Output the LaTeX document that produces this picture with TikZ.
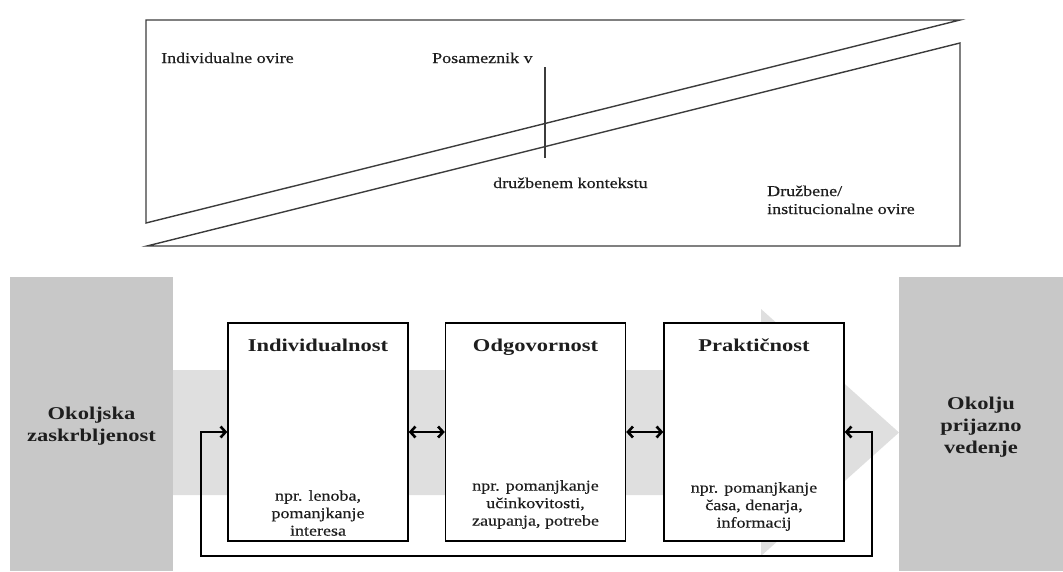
\documentclass[tikz,border=0pt]{standalone}
\usepackage{fontspec}
\usetikzlibrary{arrows.meta}
\newfontfamily\camreg[FakeStretch=1.2,FakeBold=0.35]{Liberation Serif}
\newfontfamily\cambf[FakeStretch=1.25]{Liberation Serif}
\definecolor{boxgray}{RGB}{200,200,200}
\definecolor{flowgray}{RGB}{223,223,223}
\definecolor{linegray}{RGB}{60,60,60}
\definecolor{inkc}{RGB}{30,30,30}
\tikzset{
  barrier/.style={draw=linegray,line width=1.4pt,line join=miter},
  lbl/.style={inner sep=0pt,text=inkc,font=\camreg\fontsize{15}{18}\selectfont},
  sidebox/.style={fill=boxgray,draw=none},
  sidetext/.style={inner sep=0pt,align=center,text=inkc,font=\cambf\bfseries\fontsize{18}{22}\selectfont},
  factor/.style={draw=black,line width=1.4pt,fill=white,minimum width=180pt,minimum height=218pt,inner sep=0pt},
  ftitle/.style={inner sep=0pt,anchor=base,text=inkc,font=\cambf\bfseries\fontsize{18}{22}\selectfont},
  fnote/.style={inner sep=0pt,align=center,text=inkc,font=\camreg\fontsize{15}{17.5}\selectfont},
  barb/.tip={Straight Barb[length=5pt,width=11pt,line width=2.6pt]},
  link/.style={line width=1.8pt,barb-barb},
}
\begin{document}
\begin{tikzpicture}[x=1pt,y=-1pt]
\useasboundingbox (0,0) rectangle (1063,571);

% barriers: individual (upper wedge) and social/institutional (lower wedge)
\draw[barrier] (146,20) -- (960,20) -- (146,223) -- cycle;
\draw[barrier] (147,246) -- (960,43) -- (960,246) -- cycle;
\draw[line width=1.2pt,linegray] (545,67) -- (545,158);
\node[lbl,anchor=base west] (indbar) at (161,63) {Individualne ovire};
\node[lbl,anchor=base west] (pos) at (432,63) {Posameznik v};
\node[lbl,anchor=base west] (ctx) at (493,188) {družbenem kontekstu};
\node[lbl,anchor=base west] (soc1) at (767,196) {Družbene/};
\node[lbl,anchor=base west] (soc2) at (767,214) {institucionalne ovire};

% flow from concern to behaviour
\fill[flowgray] (173,370) -- (761,370) -- (761,309) -- (899,432.5) -- (761,556) -- (761,495) -- (173,495) -- cycle;
\fill[sidebox] (10,277) rectangle (173,571);
\fill[sidebox] (899,277) rectangle (1063,571);
\node[sidetext] (concern) at (91.5,426) {Okoljska\\zaskrbljenost};
\node[sidetext] (behav) at (981,427) {Okolju\\prijazno\\vedenje};

% the three factors
\node[factor] (f1) at (318,432) {};
\node[factor] (f2) at (535.5,432) {};
\node[factor] (f3) at (754,432) {};
\node[ftitle] (t1) at (318,351) {Individualnost};
\node[ftitle] (t2) at (535.5,351) {Odgovornost};
\node[ftitle] (t3) at (754,351) {Praktičnost};
\node[fnote,anchor=south] (n1) at (318,536) {npr. lenoba,\\pomanjkanje\\interesa};
\node[fnote,anchor=south] (n2) at (535.5,529) {npr. pomanjkanje\\učinkovitosti,\\zaupanja, potrebe};
\node[fnote,anchor=south] (n3) at (754,531) {npr. pomanjkanje\\časa, denarja,\\informacij};

% links between factors and the feedback loop
\draw[link] (f1.east) -- (f2.west);
\draw[link] (f2.east) -- (f3.west);
\coordinate (lb1) at (201,432);
\coordinate (lb2) at (201,556);
\coordinate (lb3) at (872,556);
\coordinate (lb4) at (872,432);
\draw[link,line join=miter] (f1.west) -- (lb1) -- (lb2) -- (lb3) -- (lb4) -- (f3.east);
\end{tikzpicture}
\end{document}
